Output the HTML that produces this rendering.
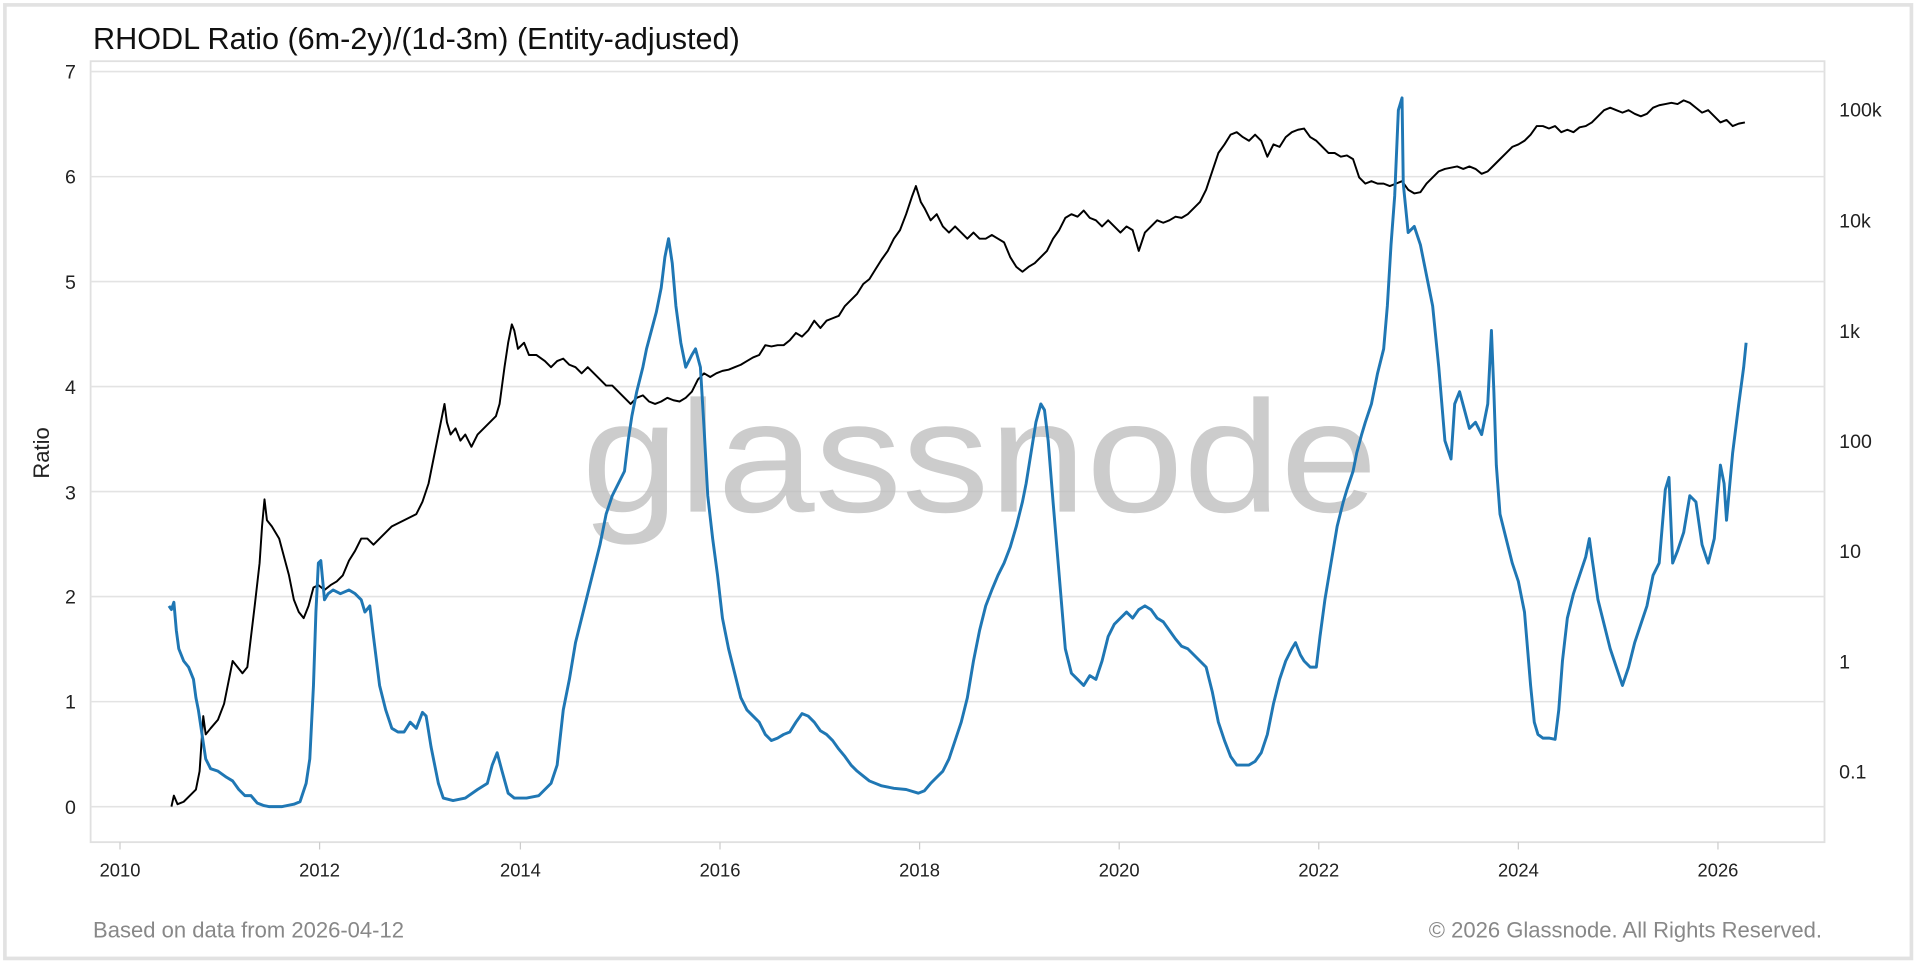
<!DOCTYPE html>
<html><head><meta charset="utf-8"><style>
html,body{margin:0;padding:0;background:#fff;width:1920px;height:967px;overflow:hidden}
svg{display:block}
text{font-family:"Liberation Sans",sans-serif}
</style></head><body>
<svg width="1920" height="967" viewBox="0 0 1568 790" preserveAspectRatio="none">
<rect x="0" y="0" width="1568" height="790" fill="#fff"/>
<rect x="4" y="4" width="1557" height="779" fill="none" stroke="#e2e2e2" stroke-width="3"/>
<text x="76" y="40" font-size="25" fill="#111">RHODL Ratio (6m-2y)/(1d-3m) (Entity-adjusted)</text>
<rect x="74" y="50" width="1416" height="638" fill="none" stroke="#e0e0e0" stroke-width="1.5"/>
<g stroke="#e3e3e3" stroke-width="1.3">
<line x1="74" x2="1490" y1="58.5" y2="58.5"/><line x1="74" x2="1490" y1="144.3" y2="144.3"/>
<line x1="74" x2="1490" y1="230" y2="230"/><line x1="74" x2="1490" y1="315.8" y2="315.8"/>
<line x1="74" x2="1490" y1="401.6" y2="401.6"/><line x1="74" x2="1490" y1="487.4" y2="487.4"/>
<line x1="74" x2="1490" y1="573.2" y2="573.2"/><line x1="74" x2="1490" y1="659" y2="659"/>
</g>
<g font-size="16" fill="#222" text-anchor="end">
<text x="62" y="64">7</text><text x="62" y="150">6</text><text x="62" y="236">5</text><text x="62" y="322">4</text>
<text x="62" y="408">3</text><text x="62" y="493">2</text><text x="62" y="579">1</text><text x="62" y="665">0</text>
</g>
<text transform="translate(40,370) rotate(-90)" font-size="18" fill="#222" text-anchor="middle">Ratio</text>
<g font-size="16" fill="#222">
<text x="1502" y="95">100k</text><text x="1502" y="186">10k</text><text x="1502" y="276">1k</text>
<text x="1502" y="366">100</text><text x="1502" y="456">10</text><text x="1502" y="546">1</text><text x="1502" y="636">0.1</text>
</g>
<g stroke="#ccc" stroke-width="1">
<line x1="98" x2="98" y1="688" y2="694"/><line x1="261" x2="261" y1="688" y2="694"/><line x1="425" x2="425" y1="688" y2="694"/>
<line x1="588" x2="588" y1="688" y2="694"/><line x1="751" x2="751" y1="688" y2="694"/><line x1="914" x2="914" y1="688" y2="694"/>
<line x1="1077" x2="1077" y1="688" y2="694"/><line x1="1240" x2="1240" y1="688" y2="694"/><line x1="1403" x2="1403" y1="688" y2="694"/>
</g>
<g font-size="15" fill="#222" text-anchor="middle">
<text x="98" y="716">2010</text><text x="261" y="716">2012</text><text x="425" y="716">2014</text><text x="588" y="716">2016</text>
<text x="751" y="716">2018</text><text x="914" y="716">2020</text><text x="1077" y="716">2022</text><text x="1240" y="716">2024</text><text x="1403" y="716">2026</text>
</g>
<text x="76" y="766" font-size="18" fill="#888">Based on data from 2026-04-12</text>
<text x="1488" y="766" font-size="18" fill="#888" text-anchor="end">© 2026 Glassnode. All Rights Reserved.</text>
<text x="800" y="418" font-size="130" fill="#bbb" fill-opacity="0.75" text-anchor="middle" textLength="650" lengthAdjust="spacingAndGlyphs">glassnode</text>
<polyline fill="none" stroke="#000" stroke-width="1.6" stroke-linejoin="round" points="140,659 142,650 145,657 150,655 155,650 160,645 163,630 166,585 168,600 172,595 178,588 183,575 186,560 190,540 194,545 198,550 202,545 205,520 208,495 212,460 214,430 216,408 218,425 222,430 228,440 232,455 236,470 240,490 244,500 248,505 252,495 256,480 260,478 265,482 270,478 275,475 280,470 285,458 290,450 295,440 300,440 305,445 310,440 315,435 320,430 330,425 340,420 345,410 350,395 355,370 360,345 363,330 365,345 368,355 372,350 376,360 380,355 385,365 390,355 395,350 400,345 405,340 408,330 412,300 415,280 418,265 420,270 423,285 428,280 432,290 438,290 445,295 450,300 455,295 460,293 465,298 470,300 475,305 480,300 485,305 490,310 495,315 500,315 505,320 510,325 515,330 520,325 525,323 530,328 535,330 540,328 545,325 550,327 555,328 560,325 565,320 570,310 575,305 580,308 585,305 590,303 595,302 600,300 605,298 610,295 615,292 620,290 625,282 630,283 635,282 640,282 645,278 650,272 655,275 660,270 665,262 670,268 675,262 680,260 685,258 690,250 695,245 700,240 705,232 710,228 715,220 720,212 725,205 730,195 735,188 740,175 745,160 748,152 752,165 755,170 760,180 765,175 770,185 775,190 780,185 785,190 790,195 795,190 800,195 805,195 810,192 815,195 820,198 825,210 830,218 835,222 840,218 845,215 850,210 855,205 860,195 865,188 870,178 875,175 880,177 885,172 890,178 895,180 900,185 905,180 910,185 915,190 920,185 925,188 930,205 935,190 940,185 945,180 950,182 955,180 960,177 965,178 970,175 975,170 980,165 985,155 990,140 995,125 1000,118 1005,110 1010,108 1015,112 1020,115 1025,110 1030,115 1035,128 1040,118 1045,120 1050,112 1055,108 1060,106 1065,105 1070,112 1075,115 1080,120 1085,125 1090,125 1095,128 1100,127 1105,130 1110,145 1115,150 1120,148 1125,150 1130,150 1135,152 1140,150 1145,148 1150,155 1155,158 1160,157 1165,150 1170,145 1175,140 1180,138 1185,137 1190,136 1195,138 1200,136 1205,138 1210,142 1215,140 1220,135 1225,130 1230,125 1235,120 1240,118 1245,115 1250,110 1255,103 1260,103 1265,105 1270,103 1275,108 1280,106 1285,108 1290,104 1295,103 1300,100 1305,95 1310,90 1315,88 1320,90 1325,92 1330,90 1335,93 1340,95 1345,93 1350,88 1355,86 1360,85 1365,84 1370,85 1375,82 1380,84 1385,88 1390,92 1395,90 1400,95 1405,100 1410,98 1415,103 1420,101 1425,100"/>
<polyline fill="none" stroke="#1f77b4" stroke-width="2.4" stroke-linejoin="round" points="138,495 140,498 142,492 144,515 146,530 150,540 154,545 158,555 160,570 162,580 165,600 168,620 172,628 178,630 185,635 190,638 195,645 200,650 205,650 210,656 215,658 220,659 230,659 240,657 245,655 250,640 253,620 256,560 258,500 260,460 262,458 265,490 268,485 272,482 278,485 285,482 290,485 295,490 298,500 302,495 305,520 310,560 315,580 320,595 325,598 330,598 335,590 340,595 345,582 348,585 352,610 358,640 362,652 370,654 380,652 390,645 398,640 402,625 406,615 410,630 415,648 420,652 430,652 440,650 450,640 455,625 460,580 465,555 470,525 475,505 480,485 485,465 490,445 495,420 500,405 505,395 510,385 513,360 516,340 520,320 525,300 528,285 532,270 536,255 540,235 543,210 546,195 549,215 552,250 556,280 560,300 565,290 568,285 572,300 575,350 578,405 582,440 586,470 590,505 595,530 600,550 605,570 610,580 615,585 620,590 625,600 630,605 635,603 640,600 645,598 650,590 655,583 660,585 665,590 670,597 675,600 680,605 685,612 690,618 695,625 700,630 705,634 710,638 720,642 730,644 740,645 750,648 755,646 760,640 765,635 770,630 775,620 780,605 785,590 790,570 795,540 800,515 805,495 810,482 815,470 820,460 825,447 830,430 835,410 838,395 842,370 846,345 850,330 853,335 856,360 860,410 865,470 870,530 875,550 880,555 885,560 890,552 895,555 900,540 905,520 910,510 915,505 920,500 925,505 930,498 935,495 940,498 945,505 950,508 955,515 960,522 965,528 970,530 975,535 980,540 985,545 990,565 995,590 1000,605 1005,618 1010,625 1015,625 1020,625 1025,622 1030,615 1035,600 1040,575 1045,555 1050,540 1055,530 1058,525 1062,535 1065,540 1070,545 1075,545 1078,520 1082,490 1087,460 1092,430 1097,410 1100,400 1105,385 1108,370 1112,355 1115,345 1120,330 1125,305 1130,285 1133,250 1136,200 1139,160 1142,90 1145,80 1146,150 1150,190 1155,185 1160,200 1165,225 1170,250 1175,300 1180,360 1185,375 1188,330 1192,320 1196,335 1200,350 1205,345 1210,355 1215,330 1218,270 1220,320 1222,380 1225,420 1230,440 1235,460 1240,475 1245,500 1250,560 1253,590 1256,600 1260,603 1265,603 1270,604 1273,580 1276,540 1280,505 1285,485 1290,470 1295,455 1298,440 1300,455 1305,490 1310,510 1315,530 1320,545 1325,560 1330,545 1335,525 1340,510 1345,495 1350,470 1355,460 1360,400 1363,390 1366,460 1370,450 1375,435 1380,405 1385,410 1390,445 1395,460 1400,440 1405,380 1408,395 1410,425 1415,370 1420,330 1424,300 1426,280"/>
</svg>
</body></html>
